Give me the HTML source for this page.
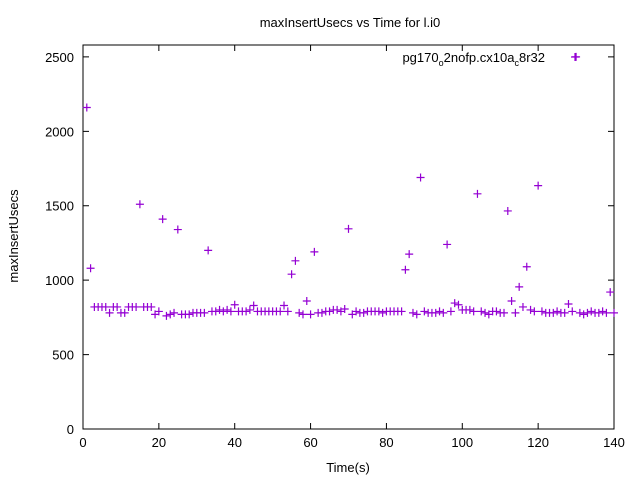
<!DOCTYPE html>
<html><head><meta charset="utf-8"><style>
body{margin:0;background:#fff}
svg{font-family:"Liberation Sans",sans-serif;font-size:13px}
</style></head><body>
<svg id="chart" width="640" height="480">
<rect x="0" y="0" width="640" height="480" fill="#fff"/>
<text x="350" y="27" text-anchor="middle">maxInsertUsecs vs Time for l.i0</text>
<text transform="translate(18,236) rotate(-90)" text-anchor="middle">maxInsertUsecs</text>
<text x="348" y="472" text-anchor="middle">Time(s)</text>
<g id="axes"></g>
<g id="points"></g>
<g>
<text x="545" y="62" text-anchor="end">pg170<tspan font-size="9" dy="4">o</tspan><tspan dy="-4">2nofp.cx10a</tspan><tspan font-size="9" dy="4">c</tspan><tspan dy="-4">8r32</tspan></text>
<path d="M571,57h8M575,53v8" stroke="#9400d3" stroke-width="1.2"/>
</g>
</svg>
<script>
const xTicks=[0,20,40,60,80,100,120,140];
const yTicks=[0,500,1000,1500,2000,2500];
const times=[];for(let t=1;t<=140;t++)times.push(t);
const values=[2160,1080,820,820,820,820,780,820,820,780,780,820,820,820,1510,820,820,820,770,790,
1410,760,770,780,1340,770,770,770,780,780,780,780,1200,790,790,800,790,800,790,835,
790,790,790,800,830,790,790,790,790,790,790,790,830,790,1040,1130,780,770,860,770,
1190,780,780,790,790,800,800,790,806,1345,770,790,780,780,790,790,790,790,780,790,
790,790,790,790,1070,1175,780,770,1690,790,780,780,780,790,780,1240,790,846,835,800,
800,800,790,1580,790,780,770,790,790,780,780,1465,860,780,955,820,1090,800,790,1635,
790,780,780,780,790,780,780,840,790,2500,780,770,780,790,780,780,790,780,920,780];
const L=83,R=614,T=45,B=429;
const xs=v=>L+(v-0)/140*(R-L);
const ys=v=>B-v/2580*(B-T);
const NS="http://www.w3.org/2000/svg";
const ax=document.getElementById('axes');
function el(tag,attrs,parent){const e=document.createElementNS(NS,tag);for(const k in attrs)e.setAttribute(k,attrs[k]);parent.appendChild(e);return e;}
const frame=el('rect',{x:L,y:T,width:R-L,height:B-T,fill:'none',stroke:'#000','stroke-width':1},ax);


xTicks.forEach(v=>{const x=xs(v);
el('path',{d:`M${x},${B}v-6M${x},${T}v6`,stroke:'#000'},ax);
const t=el('text',{x:x,y:B+18,'text-anchor':'middle'},ax);t.textContent=v;

});
yTicks.forEach(v=>{const y=ys(v);
el('path',{d:`M${L},${y}h6M${R},${y}h-6`,stroke:'#000'},ax);
const t=el('text',{x:L-9,y:y+5,'text-anchor':'end'},ax);t.textContent=v;

});
const pg=document.getElementById('points');
times.forEach((t,i)=>{const x=xs(t),y=ys(values[i]);
const p=el('path',{d:`M${x-4},${y}h8M${x},${y-4}v8`,stroke:'#9400d3','stroke-width':1.2},pg);

});
</script>
</body></html>
